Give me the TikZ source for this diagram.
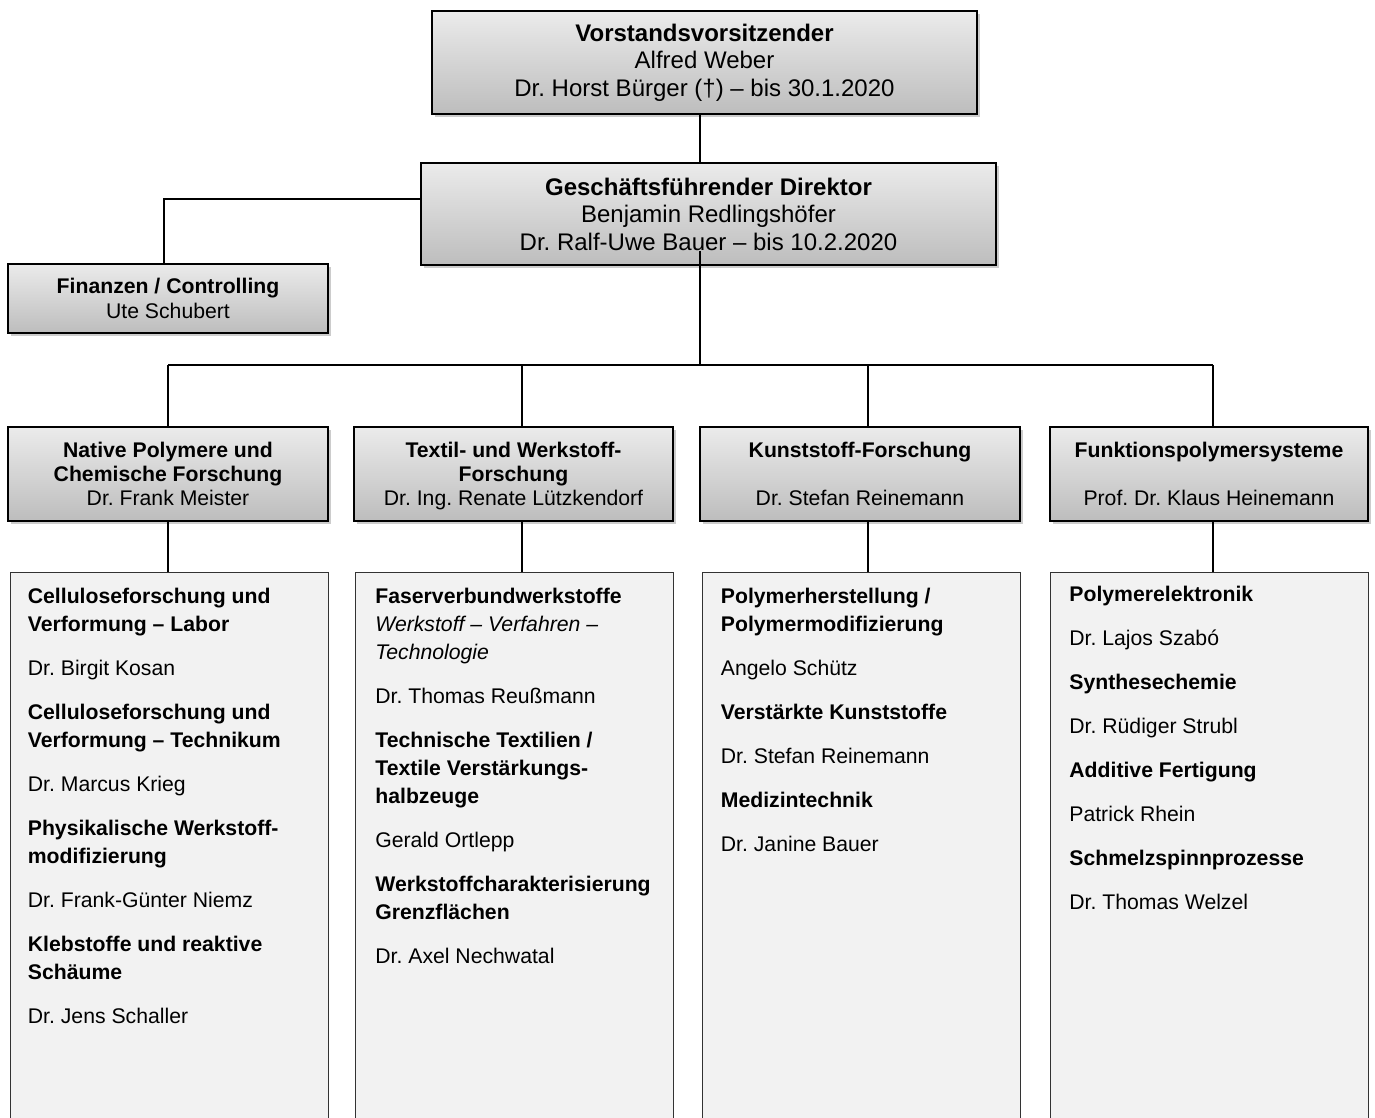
\documentclass[tikz,border=0pt]{standalone}
\usepackage{fontspec}
\setmainfont{Liberation Sans}
\usetikzlibrary{positioning,shadows}
\frenchspacing

\definecolor{headtop}{HTML}{EBEBEB}
\definecolor{headbot}{HTML}{BDBDBD}
\definecolor{listfill}{HTML}{F2F2F2}

\tikzset{
  headbox/.style={draw=black, line width=1pt, top color=headtop, bottom color=headbot,
    align=center, inner sep=0pt,
    drop shadow={shadow xshift=1.5pt, shadow yshift=-1.5pt, opacity=.4}},
  bigfont/.style={font=\fontsize{12}{13.75}\selectfont},
  smallfont/.style={font=\fontsize{10.6}{12}\selectfont},
  listbox/.style={draw=black!80, line width=.5pt, fill=listfill, anchor=north,
    inner sep=0pt, minimum width=159pt, minimum height=285pt},
  listtext/.style={align=left, inner sep=0pt, font=\fontsize{10.6}{14}\selectfont},
  link/.style={draw=black, line width=.8pt}
}

\begin{document}
\begin{tikzpicture}[x=0.5pt,y=-0.5pt]
        \useasboundingbox (0,0) rectangle (1375,1118);
        \clip (0,0) rectangle (1375,1118);

        \begin{scope}[every node/.style={headbox}]
          \node[bigfont, minimum width=272.5pt, minimum height=51.5pt] (vs) at (704.5,62.5)
            {\textbf{Vorstandsvorsitzender}\\ Alfred Weber\\ Dr. Horst Bürger (†) – bis 30.1.2020};
          \node[bigfont, minimum width=287.5pt, minimum height=51pt] (gf) at (708.5,214)
            {\textbf{Geschäftsführender Direktor}\\ Benjamin Redlingshöfer\\ Dr. Ralf-Uwe Bauer – bis 10.2.2020};
          \node[smallfont, minimum width=160pt, minimum height=34.5pt] (fin) at (168,298.5)
            {\textbf{Finanzen / Controlling}\\[0.5pt] Ute Schubert};
          \node[smallfont, minimum width=160pt, minimum height=47pt] (nat) at (168,474)
            {\textbf{Native Polymere und}\\ \textbf{Chemische Forschung}\\ Dr. Frank Meister};
          \node[smallfont, minimum width=159.5pt, minimum height=47pt] (tex) at (513.5,474)
            {\textbf{Textil- und Werkstoff-}\\ \textbf{Forschung}\\ \smash{Dr. Ing. Renate Lützkendorf}};
          \node[smallfont, minimum width=160pt, minimum height=47pt] (kun) at (860,474)
            {\textbf{Kunststoff-Forschung}\\[12pt] Dr. Stefan Reinemann};
          \node[smallfont, minimum width=159pt, minimum height=47pt] (fkt) at (1209,474)
            {\textbf{Funktionspolymersysteme}\\[12pt] Prof. Dr. Klaus Heinemann};
        \end{scope}

        \begin{scope}[every node/.style={listbox}]
          \node (natbox) at (169,572) {};
          \node (texbox) at (514.5,572) {};
          \node (kunbox) at (861,572) {};
          \node (fktbox) at (1209.5,572) {};
        \end{scope}

        \begin{scope}[every node/.style={listtext}]
          \node[below right=8pt and 9pt of natbox.north west] (natlist)
            {\textbf{Celluloseforschung und}\\ \textbf{Verformung – Labor}\\[8pt]
             Dr. Birgit Kosan\\[8pt]
             \textbf{Celluloseforschung und}\\ \textbf{Verformung – Technikum}\\[8pt]
             Dr. Marcus Krieg\\[8pt]
             \textbf{Physikalische Werkstoff-}\\ \textbf{modifizierung}\\[8pt]
             Dr. Frank-Günter Niemz\\[8pt]
             \textbf{Klebstoffe und reaktive}\\ \textbf{Schäume}\\[8pt]
             Dr. Jens Schaller};
          \node[below right=8pt and 10pt of texbox.north west] (texlist)
            {\textbf{Faserverbundwerkstoffe}\\ \textit{Werkstoff – Verfahren –}\\ \textit{Technologie}\\[8pt]
             Dr. Thomas Reußmann\\[8pt]
             \textbf{Technische Textilien /}\\ \textbf{Textile Verstärkungs-}\\ \textbf{halbzeuge}\\[8pt]
             Gerald Ortlepp\\[8pt]
             \textbf{Werkstoffcharakterisierung}\\ \textbf{Grenzflächen}\\[8pt]
             Dr. Axel Nechwatal};
          \node[below right=8pt and 9.5pt of kunbox.north west] (kunlist)
            {\textbf{Polymerherstellung /}\\ \textbf{Polymermodifizierung}\\[8pt]
             Angelo Schütz\\[8pt]
             \textbf{Verstärkte Kunststoffe}\\[8pt]
             Dr. Stefan Reinemann\\[8pt]
             \textbf{Medizintechnik}\\[8pt]
             Dr. Janine Bauer};
          \node[below right=7pt and 9.5pt of fktbox.north west] (fktlist)
            {\textbf{Polymerelektronik}\\[8pt]
             Dr. Lajos Szabó\\[8pt]
             \textbf{Synthesechemie}\\[8pt]
             Dr. Rüdiger Strubl\\[8pt]
             \textbf{Additive Fertigung}\\[8pt]
             Patrick Rhein\\[8pt]
             \textbf{Schmelzspinnprozesse}\\[8pt]
             Dr. Thomas Welzel};
        \end{scope}

        % connectors
        \coordinate (bus) at (700,365);
        \coordinate (d1) at (168,365);
        \coordinate (d2) at (522,365);
        \coordinate (d3) at (868,365);
        \coordinate (d4) at (1213,365);

        \begin{scope}[every path/.style={link}]
          \path (vs.south -| bus) edge (gf.north -| bus);
          \path ([yshift=7.5pt]gf.west) edge[to path={-| (\tikztotarget)}] ([xshift=-2pt]fin.north);
          \path ([yshift=7.5pt]bus |- gf.south) edge (bus);
          \path (d1) edge (d4);
          \foreach \d/\h/\b in {d1/nat/natbox, d2/tex/texbox, d3/kun/kunbox, d4/fkt/fktbox} {
            \path (\d) edge (\d |- \h.north);
            \path (\d |- \h.south) edge (\d |- \b.north);
          }
        \end{scope}

\end{tikzpicture}
\end{document}
